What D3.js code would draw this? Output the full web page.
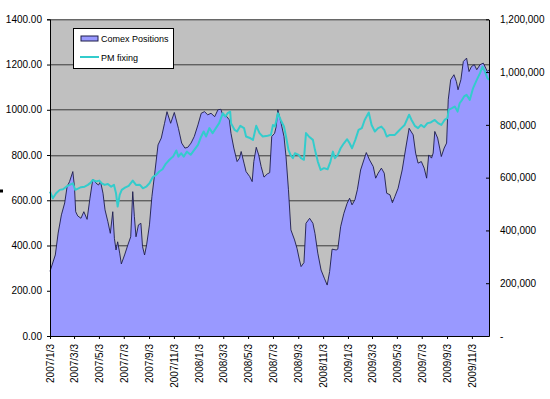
<!DOCTYPE html>
<html>
<head>
<meta charset="utf-8">
<script src="https://cdn.jsdelivr.net/npm/d3@7"></script>
<style>
    body { margin: 0; background: #fff; }
    svg text { font-family: "Liberation Sans", Arial, sans-serif; fill: #000; }
</style>
</head>
<body>
<div id="chart"></div>
<script>
// ========== Data ==========
const xTickLabels = ["2007/1/3", "2007/3/3", "2007/5/3", "2007/7/3", "2007/9/3", "2007/11/3",
    "2008/1/3", "2008/3/3", "2008/5/3", "2008/7/3", "2008/9/3", "2008/11/3",
    "2009/1/3", "2009/3/3", "2009/5/3", "2009/7/3", "2009/9/3", "2009/11/3"];
const leftTicks = [0, 200, 400, 600, 800, 1000, 1200, 1400];
const rightTicks = [0, 200000, 400000, 600000, 800000, 1000000, 1200000];
const seriesNames = ["Comex Positions", "PM fixing"];

// Comex positions (right axis)
const comexPositions = [
    ["2007-01-03", 245000], ["2007-01-16", 307000], ["2007-01-23", 390000], ["2007-01-31", 459000],
    ["2007-02-08", 504000], ["2007-02-14", 566000], ["2007-02-20", 585000], ["2007-02-28", 623000],
    ["2007-03-04", 566000], ["2007-03-07", 471000], ["2007-03-12", 455000], ["2007-03-20", 446000],
    ["2007-03-27", 471000], ["2007-04-04", 442000], ["2007-04-11", 522000], ["2007-04-18", 594000],
    ["2007-04-26", 579000], ["2007-05-02", 572000], ["2007-05-07", 585000], ["2007-05-13", 541000],
    ["2007-05-18", 478000], ["2007-05-25", 433000], ["2007-05-31", 389000], ["2007-06-06", 471000],
    ["2007-06-10", 370000], ["2007-06-14", 326000], ["2007-06-18", 357000], ["2007-06-23", 314000],
    ["2007-06-27", 273000], ["2007-07-05", 307000], ["2007-07-13", 345000], ["2007-07-20", 376000],
    ["2007-07-25", 547000], ["2007-07-29", 452000], ["2007-08-02", 376000], ["2007-08-08", 421000],
    ["2007-08-14", 427000], ["2007-08-18", 339000], ["2007-08-23", 307000], ["2007-08-28", 345000],
    ["2007-09-04", 421000], ["2007-09-10", 528000], ["2007-09-17", 617000], ["2007-09-25", 724000],
    ["2007-10-03", 750000], ["2007-10-11", 806000], ["2007-10-17", 850000], ["2007-10-26", 806000],
    ["2007-11-04", 847000], ["2007-11-14", 787000], ["2007-11-22", 731000], ["2007-11-30", 712000],
    ["2007-12-07", 715000], ["2007-12-15", 731000], ["2007-12-23", 756000], ["2008-01-01", 800000],
    ["2008-01-09", 844000], ["2008-01-17", 850000], ["2008-01-25", 838000], ["2008-02-02", 844000],
    ["2008-02-11", 831000], ["2008-02-19", 857000], ["2008-02-26", 859000], ["2008-03-02", 838000],
    ["2008-03-10", 834000], ["2008-03-18", 819000], ["2008-03-22", 768000], ["2008-03-29", 712000],
    ["2008-04-06", 661000], ["2008-04-12", 674000], ["2008-04-16", 699000], ["2008-04-23", 655000],
    ["2008-04-28", 623000], ["2008-05-07", 604000], ["2008-05-13", 585000], ["2008-05-17", 661000],
    ["2008-05-23", 715000], ["2008-05-29", 686000], ["2008-06-04", 642000], ["2008-06-11", 602000],
    ["2008-06-19", 614000], ["2008-06-25", 619000], ["2008-06-30", 756000], ["2008-07-07", 768000],
    ["2008-07-11", 794000], ["2008-07-15", 857000], ["2008-07-23", 806000], ["2008-07-30", 756000],
    ["2008-08-04", 680000], ["2008-08-10", 554000], ["2008-08-16", 402000], ["2008-08-25", 364000],
    ["2008-08-31", 332000], ["2008-09-06", 288000], ["2008-09-10", 263000], ["2008-09-17", 278000],
    ["2008-09-22", 427000], ["2008-10-01", 446000], ["2008-10-09", 427000], ["2008-10-14", 389000],
    ["2008-10-21", 314000], ["2008-10-29", 250000], ["2008-11-06", 219000], ["2008-11-13", 193000],
    ["2008-11-19", 244000], ["2008-11-25", 329000], ["2008-12-05", 326000], ["2008-12-09", 329000],
    ["2008-12-16", 414000], ["2008-12-24", 465000], ["2009-01-01", 503000], ["2009-01-07", 522000],
    ["2009-01-13", 497000], ["2009-01-20", 516000], ["2009-01-26", 554000], ["2009-02-03", 629000],
    ["2009-02-11", 667000], ["2009-02-17", 695000], ["2009-02-25", 667000], ["2009-03-06", 642000],
    ["2009-03-12", 598000], ["2009-03-18", 617000], ["2009-03-26", 636000], ["2009-04-02", 617000],
    ["2009-04-08", 541000], ["2009-04-16", 535000], ["2009-04-22", 505000], ["2009-04-28", 528000],
    ["2009-05-06", 560000], ["2009-05-16", 629000], ["2009-05-24", 705000], ["2009-06-02", 787000],
    ["2009-06-12", 762000], ["2009-06-18", 693000], ["2009-06-24", 655000], ["2009-07-02", 661000],
    ["2009-07-09", 636000], ["2009-07-15", 598000], ["2009-07-20", 686000], ["2009-07-27", 674000],
    ["2009-07-31", 693000], ["2009-08-04", 775000], ["2009-08-11", 750000], ["2009-08-16", 712000],
    ["2009-08-20", 680000], ["2009-08-27", 712000], ["2009-09-02", 731000], ["2009-09-06", 895000],
    ["2009-09-12", 971000], ["2009-09-20", 990000], ["2009-09-26", 964000], ["2009-09-30", 933000],
    ["2009-10-07", 971000], ["2009-10-13", 1040000], ["2009-10-21", 1053000], ["2009-10-27", 1002000],
    ["2009-11-02", 1021000], ["2009-11-09", 1028000], ["2009-11-15", 1009000], ["2009-11-23", 1028000],
    ["2009-12-01", 1034000], ["2009-12-07", 1015000], ["2009-12-11", 1002000], ["2009-12-15", 1009000]
];

// PM fixing (left axis)
const pmFixing = [
    ["2007-01-03", 638], ["2007-01-10", 609], ["2007-01-18", 631], ["2007-01-27", 646],
    ["2007-02-04", 649], ["2007-02-12", 660], ["2007-02-20", 668], ["2007-02-28", 675],
    ["2007-03-06", 646], ["2007-03-14", 653], ["2007-03-20", 658], ["2007-03-29", 660],
    ["2007-04-06", 668], ["2007-04-13", 678], ["2007-04-18", 690], ["2007-04-26", 683],
    ["2007-05-04", 687], ["2007-05-10", 675], ["2007-05-17", 668], ["2007-05-25", 672],
    ["2007-06-02", 660], ["2007-06-09", 668], ["2007-06-14", 631], ["2007-06-18", 572],
    ["2007-06-23", 624], ["2007-06-28", 646], ["2007-07-06", 656], ["2007-07-15", 664],
    ["2007-07-25", 687], ["2007-08-02", 668], ["2007-08-11", 669], ["2007-08-19", 653],
    ["2007-08-27", 660], ["2007-09-04", 675], ["2007-09-12", 702], ["2007-09-20", 712],
    ["2007-09-28", 727], ["2007-10-06", 737], ["2007-10-14", 761], ["2007-10-23", 779],
    ["2007-11-01", 793], ["2007-11-09", 820], ["2007-11-14", 793], ["2007-11-21", 808],
    ["2007-11-27", 793], ["2007-12-05", 815], ["2007-12-14", 801], ["2007-12-23", 823],
    ["2008-01-01", 845], ["2008-01-09", 882], ["2008-01-15", 904], ["2008-01-21", 882],
    ["2008-01-29", 919], ["2008-02-06", 897], ["2008-02-14", 919], ["2008-02-22", 941],
    ["2008-03-02", 985], ["2008-03-08", 970], ["2008-03-14", 985], ["2008-03-20", 992],
    ["2008-03-22", 941], ["2008-03-31", 911], ["2008-04-06", 904], ["2008-04-14", 929],
    ["2008-04-23", 919], ["2008-04-28", 882], ["2008-05-09", 874], ["2008-05-15", 867],
    ["2008-05-23", 929], ["2008-05-31", 897], ["2008-06-08", 882], ["2008-06-20", 885],
    ["2008-06-28", 889], ["2008-07-03", 933], ["2008-07-08", 926], ["2008-07-15", 985],
    ["2008-07-22", 955], ["2008-07-30", 926], ["2008-08-04", 882], ["2008-08-10", 823],
    ["2008-08-15", 801], ["2008-08-21", 786], ["2008-08-26", 808], ["2008-09-04", 801],
    ["2008-09-10", 786], ["2008-09-17", 779], ["2008-09-22", 897], ["2008-09-29", 882],
    ["2008-10-09", 867], ["2008-10-14", 823], ["2008-10-21", 771], ["2008-10-28", 734],
    ["2008-11-05", 742], ["2008-11-14", 737], ["2008-11-21", 771], ["2008-11-27", 815],
    ["2008-12-02", 786], ["2008-12-09", 801], ["2008-12-16", 830], ["2008-12-24", 852],
    ["2009-01-01", 870], ["2009-01-07", 852], ["2009-01-13", 830], ["2009-01-21", 867],
    ["2009-01-29", 911], ["2009-02-06", 919], ["2009-02-13", 955], ["2009-02-23", 988],
    ["2009-03-02", 933], ["2009-03-10", 904], ["2009-03-18", 919], ["2009-03-26", 926],
    ["2009-04-02", 911], ["2009-04-08", 882], ["2009-04-16", 889], ["2009-04-28", 889],
    ["2009-05-06", 904], ["2009-05-14", 919], ["2009-05-22", 933], ["2009-06-02", 978],
    ["2009-06-08", 955], ["2009-06-16", 929], ["2009-06-24", 919], ["2009-07-01", 933],
    ["2009-07-09", 923], ["2009-07-17", 941], ["2009-07-25", 944], ["2009-08-04", 955],
    ["2009-08-12", 941], ["2009-08-20", 933], ["2009-08-28", 955], ["2009-09-04", 963],
    ["2009-09-07", 1000], ["2009-09-15", 1007], ["2009-09-22", 1014], ["2009-09-29", 992],
    ["2009-10-04", 1029], ["2009-10-10", 1044], ["2009-10-15", 1059], ["2009-10-21", 1066],
    ["2009-10-29", 1044], ["2009-11-06", 1096], ["2009-11-15", 1132], ["2009-11-23", 1162],
    ["2009-11-29", 1191], ["2009-12-05", 1169], ["2009-12-11", 1140], ["2009-12-15", 1132]
];

// ========== Chart ==========
function renderChart() {
    const width = 550, height = 399;
    const margin = { top: 19.3, right: 61, bottom: 63, left: 50 };
    const innerW = width - margin.left - margin.right;
    const innerH = height - margin.top - margin.bottom;

    const parseDay = d3.timeParse("%Y-%m-%d");
    const parseTick = d3.timeParse("%Y/%m/%d");

    const comex = comexPositions.map(d => ({ date: parseDay(d[0]), value: d[1] }));
    const pm = pmFixing.map(d => ({ date: parseDay(d[0]), value: d[1] }));
    const tickDates = xTickLabels.map(parseTick);

    const x = d3.scaleTime()
        .domain([parseDay("2007-01-03"), parseDay("2009-12-15")])
        .range([0, innerW]);
    const yLeft = d3.scaleLinear().domain([0, 1400]).range([innerH, 0]);
    const yRight = d3.scaleLinear().domain([0, 1200000]).range([innerH, 0]);

    const svg = d3.select("#chart").append("svg")
        .attr("width", width)
        .attr("height", height);

    // stray mark at the left edge
    svg.append("rect")
        .attr("x", 0).attr("y", 189.5)
        .attr("width", 3).attr("height", 3)
        .attr("fill", "#000");

    const g = svg.append("g")
        .attr("transform", `translate(${margin.left},${margin.top})`);

    // Plot background
    g.append("rect")
        .attr("width", innerW)
        .attr("height", innerH)
        .attr("fill", "#c0c0c0");

    // Gridlines
    g.selectAll(".grid")
        .data(leftTicks.slice(1))
        .enter().append("line")
        .attr("x1", 0).attr("x2", innerW)
        .attr("y1", d => Math.round(yLeft(d)) + 0.5)
        .attr("y2", d => Math.round(yLeft(d)) + 0.5)
        .attr("stroke", "#3a3a3a")
        .attr("stroke-width", 1);

    // Area (Comex positions)
    g.append("path")
        .datum(comex)
        .attr("fill", "#9999ff")
        .attr("d", d3.area()
            .x(d => x(d.date))
            .y0(innerH)
            .y1(d => yRight(d.value)));

    g.append("path")
        .datum(comex)
        .attr("fill", "none")
        .attr("stroke", "#1c1c4a")
        .attr("stroke-width", 0.9)
        .attr("d", d3.line()
            .x(d => x(d.date))
            .y(d => yRight(d.value)));

    // Line (PM fixing)
    g.append("path")
        .datum(pm)
        .attr("fill", "none")
        .attr("stroke", "#33cccc")
        .attr("stroke-width", 2)
        .attr("stroke-linejoin", "round")
        .attr("d", d3.line()
            .x(d => x(d.date))
            .y(d => yLeft(d.value)));

    // Left axis
    const leftAxis = g.append("g")
        .call(d3.axisLeft(yLeft)
            .tickValues(leftTicks)
            .tickFormat(d3.format(".2f"))
            .tickSize(3)
            .tickPadding(5));
    leftAxis.selectAll("text").style("font-size", "10px");

    // Right axis
    const rightAxis = g.append("g")
        .attr("transform", `translate(${innerW},0)`)
        .call(d3.axisRight(yRight)
            .tickValues(rightTicks)
            .tickFormat(d => d === 0 ? "-" : d3.format(",")(d))
            .tickSizeInner(-3)
            .tickSizeOuter(0)
            .tickPadding(11));
    rightAxis.selectAll("text").style("font-size", "10px");

    // Bottom axis
    const bottomAxis = g.append("g")
        .attr("transform", `translate(0,${innerH})`)
        .call(d3.axisBottom(x)
            .tickValues(tickDates)
            .tickFormat((d, i) => xTickLabels[i])
            .tickSize(3)
            .tickSizeOuter(0));
    bottomAxis.selectAll("text")
        .style("font-size", "10px")
        .style("text-anchor", "end")
        .attr("transform", "rotate(-90)")
        .attr("x", -8)
        .attr("y", 0)
        .attr("dy", "0.35em");

    svg.selectAll(".domain").attr("stroke", "#000");
    svg.selectAll(".tick line").attr("stroke", "#000");

    // Legend
    const legend = svg.append("g").attr("transform", "translate(73,28)");
    legend.append("rect")
        .attr("x", 0.5).attr("y", 0.5)
        .attr("width", 100).attr("height", 40)
        .attr("fill", "#fff")
        .attr("stroke", "#000");
    legend.append("rect")
        .attr("x", 8).attr("y", 8)
        .attr("width", 17).attr("height", 5)
        .attr("fill", "#9999ff")
        .attr("stroke", "#1c1c4a");
    legend.append("line")
        .attr("x1", 7).attr("x2", 26)
        .attr("y1", 29).attr("y2", 29)
        .attr("stroke", "#33cccc")
        .attr("stroke-width", 2);
    legend.selectAll(".label")
        .data(seriesNames)
        .enter().append("text")
        .attr("x", 28)
        .attr("y", (d, i) => 10.5 + i * 19.5)
        .attr("dy", "0.35em")
        .style("font-size", "9px")
        .text(d => d);
}

document.addEventListener("DOMContentLoaded", renderChart);
</script>
</body>
</html>
